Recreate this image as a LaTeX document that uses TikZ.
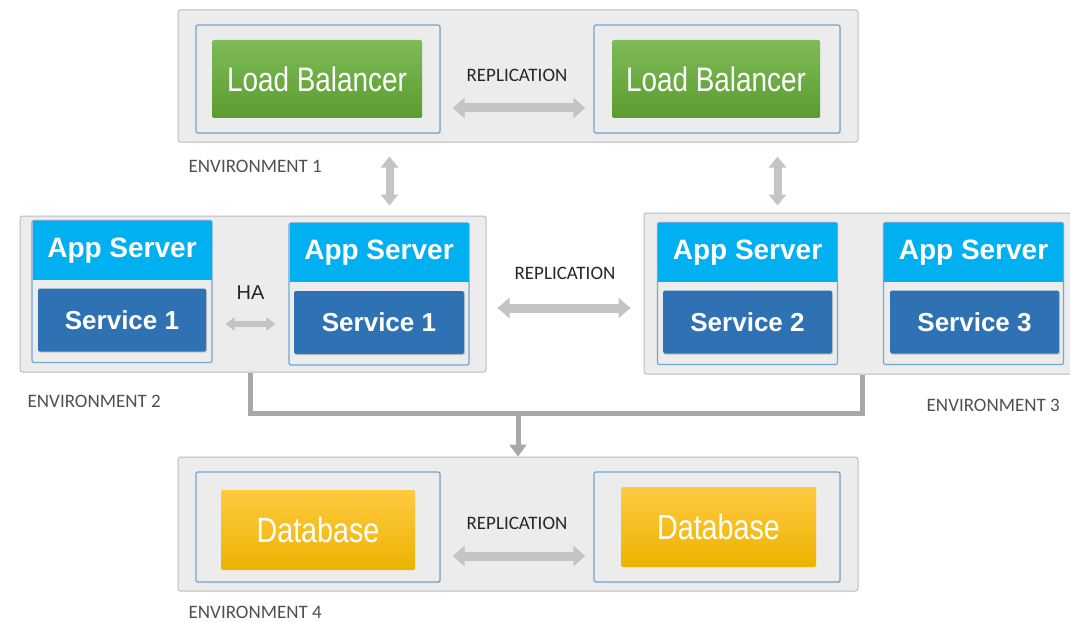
\documentclass[tikz,border=0pt]{standalone}
\usepackage{fontspec}
\setmainfont{Liberation Sans}
\newfontfamily\carl{Carlito}
\newfontfamily\narrowsans[FakeStretch=0.82]{Liberation Sans}
\usetikzlibrary{arrows.meta,calc,shadows}

\definecolor{envfill}{HTML}{ECECEC}
\definecolor{envborder}{HTML}{BDBDBD}
\definecolor{holdborder}{HTML}{72A6D6}
\definecolor{lbtop}{HTML}{7FBB57}
\definecolor{lbbot}{HTML}{5A9C30}
\definecolor{dbtop}{HTML}{FFCA42}
\definecolor{dbbot}{HTML}{EDB300}
\definecolor{hdrblue}{HTML}{00B0F0}
\definecolor{svcblue}{HTML}{2E72B3}
\definecolor{arrowgray}{HTML}{C4C4C4}
\definecolor{busgray}{HTML}{A8A8A8}
\definecolor{labelgray}{HTML}{505050}
\definecolor{labeldark}{HTML}{262626}

\begin{document}
\begin{tikzpicture}[x=1pt,y=-1pt,
  env/.style={draw=envborder, fill=envfill, rounded corners=2.5pt, line width=1pt, inner sep=0pt},
  holder/.style={draw=holdborder, fill=envfill, rounded corners=2pt, line width=1.3pt, inner sep=0pt,
    drop shadow={opacity=0.18, shadow xshift=1pt, shadow yshift=-1pt}},
  lbbox/.style={top color=lbtop, bottom color=lbbot, rounded corners=1.5pt, inner sep=0pt,
    text=white, font=\narrowsans\fontsize{34}{36}\selectfont},
  dbbox/.style={top color=dbtop, bottom color=dbbot, rounded corners=1.5pt, inner sep=0pt,
    text=white, font=\narrowsans\fontsize{35}{37}\selectfont},
  appbox/.style={draw=holdborder, fill=envfill, rounded corners=2pt, line width=1.2pt, inner sep=0pt,
    minimum width=180pt, minimum height=142pt},
  hdr/.style={fill=hdrblue, inner sep=0pt, minimum width=179pt, minimum height=59pt,
    text=white, font=\bfseries\fontsize{28}{30}\selectfont},
  svc/.style={fill=svcblue, rounded corners=1.5pt, inner sep=0pt, minimum height=63pt,
    text=white, font=\bfseries\fontsize{26}{28}\selectfont,
    drop shadow={opacity=0.35, shadow xshift=1pt, shadow yshift=-1.2pt}},
  envlabel/.style={text=labelgray, font=\carl\fontsize{19}{21}\selectfont, anchor=west, inner sep=0pt},
  replabel/.style={text=labeldark, font=\carl\fontsize{19}{21}\selectfont, inner sep=0pt},
  fat/.style={draw=arrowgray, line width=9pt,
    {Triangle[width=20pt,length=12pt]}-{Triangle[width=20pt,length=12pt]}},
  fatv/.style={draw=arrowgray, line width=8pt,
    {Triangle[width=17pt,length=11pt]}-{Triangle[width=17pt,length=11pt]}},
  thin/.style={draw=arrowgray, line width=6pt,
    {Triangle[width=13pt,length=9pt]}-{Triangle[width=13pt,length=9pt]}},
  bus/.style={draw=busgray, line width=5pt}
]
\useasboundingbox[fill=white] (0,0) rectangle (1070,623);

% ---------- environment 1: load balancers ----------
\node[env, minimum width=680pt, minimum height=132pt] (env1) at (518,76) {};
\node[holder, minimum width=244pt, minimum height=108pt] (in1L) at (318,79) {};
\node[holder, minimum width=246pt, minimum height=108pt] (in1R) at (717,79) {};
\node[lbbox, minimum width=210pt, minimum height=78pt] (lb1) at (317,79) {Load Balancer};
\node[lbbox, minimum width=208pt, minimum height=78pt] (lb2) at (716,79) {Load Balancer};
\node[replabel] (rep1) at ([yshift=4pt]$(in1L.east)!0.5!(in1R.west)$) {REPLICATION};
\draw[fat] ([xshift=12pt,yshift=-29pt]in1L.east) -- ([xshift=-8pt,yshift=-29pt]in1R.west);
\node[envlabel] (e1) at ([xshift=11pt,yshift=-24pt]env1.south west) {ENVIRONMENT 1};

% ---------- environment 2: app servers ----------
\node[env, minimum width=466pt, minimum height=156pt] (env2) at (253,294) {};
\node[appbox] (as1) at (122,291.5) {};
\node[hdr, anchor=north] (h1) at ([yshift=-0.6pt]as1.north) {App Server};
\node[svc, minimum width=168pt] (s1) at (122,320) {Service 1};
\node[appbox] (as2) at (379,294) {};
\node[hdr, anchor=north] (h2) at ([yshift=-0.6pt]as2.north) {App Server};
\node[svc, minimum width=170pt] (s2) at (379,322.5) {Service 1};
\node[text=labeldark, font=\fontsize{20}{22}\selectfont, inner sep=0pt] (ha) at ($(as1.east)!0.5!(as2.west)$) {HA};
\draw[thin] ([xshift=13pt,yshift=-32.5pt]as1.east) -- ([xshift=-13pt,yshift=-30pt]as2.west);
\node[envlabel] (e2) at ([xshift=8pt,yshift=-29pt]env2.south west) {ENVIRONMENT 2};

% ---------- environment 3: app servers ----------
\node[env, minimum width=430pt, minimum height=161pt] (env3) at (859,293.5) {};
\node[appbox] (as3) at (747.5,293.5) {};
\node[hdr, anchor=north] (h3) at ([yshift=-0.6pt]as3.north) {App Server};
\node[svc, minimum width=169pt] (s3) at (747.5,322) {Service 2};
\node[appbox] (as4) at (973.5,293.5) {};
\node[hdr, anchor=north] (h4) at ([yshift=-0.6pt]as4.north) {App Server};
\node[svc, minimum width=169pt] (s4) at (974.5,322) {Service 3};
\node[envlabel] (e3) at ([xshift=283pt,yshift=-31pt]env3.south west) {ENVIRONMENT 3};

% replication between the two app-server environments
\node[replabel] (rep2) at ([yshift=20pt]$(env2.east)!0.5!(env3.west)$) {REPLICATION};
\draw[fat] ([xshift=11pt,yshift=-14pt]env2.east) -- ([xshift=-13pt,yshift=-14.5pt]env3.west);

% load balancers to app servers
\draw[fatv] ([xshift=212pt,yshift=-14pt]env1.south west) -- ([xshift=370pt,yshift=10pt]env2.north west);
\draw[fatv] ([xshift=600pt,yshift=-14pt]env1.south west) -- ([xshift=134pt,yshift=7pt]env3.north west);

% ---------- environment 4: databases ----------
\node[env, minimum width=680pt, minimum height=134pt] (env4) at (518,524) {};
\node[holder, minimum width=244pt, minimum height=110pt] (in4L) at (318,527) {};
\node[holder, minimum width=246pt, minimum height=110pt] (in4R) at (717,527) {};
\node[dbbox, minimum width=194pt, minimum height=80pt] (db1) at (318,530) {Database};
\node[dbbox, minimum width=195pt, minimum height=80pt] (db2) at (718.5,527) {Database};
\node[replabel] (rep4) at ([yshift=4pt]$(in4L.east)!0.5!(in4R.west)$) {REPLICATION};
\draw[fat] ([xshift=12pt,yshift=-29pt]in4L.east) -- ([xshift=-8pt,yshift=-29pt]in4R.west);
\node[envlabel] (e4) at ([xshift=11pt,yshift=-21pt]env4.south west) {ENVIRONMENT 4};

% app servers to databases
\coordinate (j) at (518,413);
\draw[bus] ([xshift=-3pt]env2.south) |- (j) -| ([xshift=3pt]env3.south);
\draw[bus, -{Triangle[width=17pt,length=12pt]}] (j) -- (env4.north);
\end{tikzpicture}
\end{document}
